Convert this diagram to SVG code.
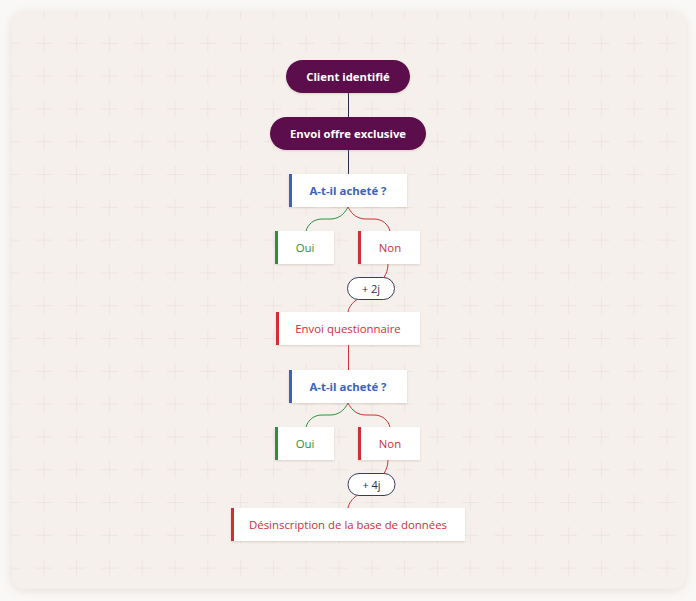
<svg xmlns="http://www.w3.org/2000/svg" width="696" height="601" viewBox="0 0 696 601">
  <defs>
    <pattern id="plus" patternUnits="userSpaceOnUse" x="-5.4" y="-5.9" width="32.8" height="32.8">
      <path d="M7.9 16.4H24.9M16.4 7.9V24.9" stroke="#eee4e0" stroke-width="1" fill="none"/>
    </pattern>
    <filter id="cardShadow" x="-10%" y="-10%" width="120%" height="120%">
      <feDropShadow dx="0" dy="2" stdDeviation="4" flood-color="#b8a89c" flood-opacity="0.3"/>
    </filter>
    <filter id="boxShadow" x="-20%" y="-30%" width="140%" height="160%">
      <feDropShadow dx="0" dy="1" stdDeviation="1.2" flood-color="#8a7060" flood-opacity="0.25"/>
    </filter>
    <style>
      .pill { fill: #5c0b4b; filter: url(#boxShadow); }
      .pilltext { font-family: "Open Sans", "Liberation Sans", sans-serif; font-size: 11.3px; font-weight: 700; fill: #ffffff; text-anchor: middle; }
      .box { fill: #ffffff; filter: url(#boxShadow); }
      .t { font-family: "Open Sans", "Liberation Sans", sans-serif; font-size: 11.4px; text-anchor: middle; }
      .blue { fill: #3a63bd; }
      .green { fill: #2f8f3a; }
      .red { fill: #cf2f35; }
      .bold { font-weight: 700; }
      .delay { fill: #ffffff; stroke: #3b3b5c; stroke-width: 1; }
      .delaytext { font-family: "Open Sans", "Liberation Sans", sans-serif; font-size: 11px; fill: #2e2e48; text-anchor: middle; }
      .c-dark { stroke: #2d2d4a; stroke-width: 1; fill: none; }
      .c-green { stroke: #2f8f3a; stroke-width: 1; fill: none; }
      .c-red { stroke: #cf2f35; stroke-width: 1; fill: none; }
    </style>
  </defs>

  <rect x="0" y="0" width="696" height="601" fill="#faf8f6"/>
  <rect x="11" y="11" width="675" height="578" rx="13" fill="#f5f0eb" filter="url(#cardShadow)"/>
  <rect x="11" y="11" width="675" height="578" rx="13" fill="url(#plus)"/>

  <g id="connectors">
    <path class="c-dark" d="M348.5 93V117"/>
    <path class="c-dark" d="M348.5 150V174"/>
    <path class="c-green" d="M348 207C344 215 338 219 330 219L322 219C314 219 308 224 306 231"/>
    <path class="c-red" d="M348 207C352 215 358 219 366 219L374 219C382 219 388 224 390 231"/>
    <path class="c-red" d="M388 264C388 270 386 274 384 277.5"/>
    <path class="c-red" d="M357 299.5C352 303 349 307 348 312"/>
    <path class="c-red" d="M348.5 345V370"/>
    <path class="c-green" d="M348 403C344 411 338 415 330 415L322 415C314 415 308 420 306 427"/>
    <path class="c-red" d="M348 403C352 411 358 415 366 415L374 415C382 415 388 420 390 427"/>
    <path class="c-red" d="M388 460C388 466 386 470 384 473.5"/>
    <path class="c-red" d="M357 495.5C352 499 349 503 348 508"/>
  </g>

  <g id="n-client">
    <rect class="pill" x="286" y="60" width="124" height="33" rx="16.5"/>
    <text class="pilltext" x="348" y="80.5">Client identifié</text>
  </g>
  <g id="n-offre">
    <rect class="pill" x="270" y="117" width="156" height="33" rx="16.5"/>
    <text class="pilltext" x="348" y="137.5">Envoi offre exclusive</text>
  </g>

  <g id="n-q1">
    <rect class="box" x="289" y="174" width="118" height="33"/>
    <rect class="blue" x="289" y="174" width="3" height="33"/>
    <text class="t blue bold" x="348" y="194.5">A-t-il acheté ?</text>
  </g>
  <g id="n-oui1">
    <rect class="box" x="275" y="231" width="59" height="33"/>
    <rect class="green" x="275" y="231" width="3" height="33"/>
    <text class="t green" x="305" y="251.5">Oui</text>
  </g>
  <g id="n-non1">
    <rect class="box" x="358" y="231" width="62" height="33"/>
    <rect class="red" x="358" y="231" width="3" height="33"/>
    <text class="t red" x="390" y="251.5">Non</text>
  </g>
  <g id="n-d2">
    <rect class="delay" x="347.5" y="277.5" width="47" height="22" rx="11"/>
    <text class="delaytext" x="371" y="292.5">+ 2j</text>
  </g>
  <g id="n-quest">
    <rect class="box" x="276" y="312" width="144" height="33"/>
    <rect class="red" x="276" y="312" width="3" height="33"/>
    <text class="t red" x="348" y="332.5">Envoi questionnaire</text>
  </g>

  <g id="n-q2">
    <rect class="box" x="289" y="370" width="118" height="33"/>
    <rect class="blue" x="289" y="370" width="3" height="33"/>
    <text class="t blue bold" x="348" y="390.5">A-t-il acheté ?</text>
  </g>
  <g id="n-oui2">
    <rect class="box" x="275" y="427" width="59" height="33"/>
    <rect class="green" x="275" y="427" width="3" height="33"/>
    <text class="t green" x="305" y="447.5">Oui</text>
  </g>
  <g id="n-non2">
    <rect class="box" x="358" y="427" width="62" height="33"/>
    <rect class="red" x="358" y="427" width="3" height="33"/>
    <text class="t red" x="390" y="447.5">Non</text>
  </g>
  <g id="n-d4">
    <rect class="delay" x="348" y="473.5" width="47" height="22" rx="11"/>
    <text class="delaytext" x="371.5" y="488.5">+ 4j</text>
  </g>
  <g id="n-desinscription">
    <rect class="box" x="231" y="508" width="234" height="33"/>
    <rect class="red" x="231" y="508" width="3" height="33"/>
    <text class="t red" x="348" y="528.5">Désinscription de la base de données</text>
  </g>
</svg>
